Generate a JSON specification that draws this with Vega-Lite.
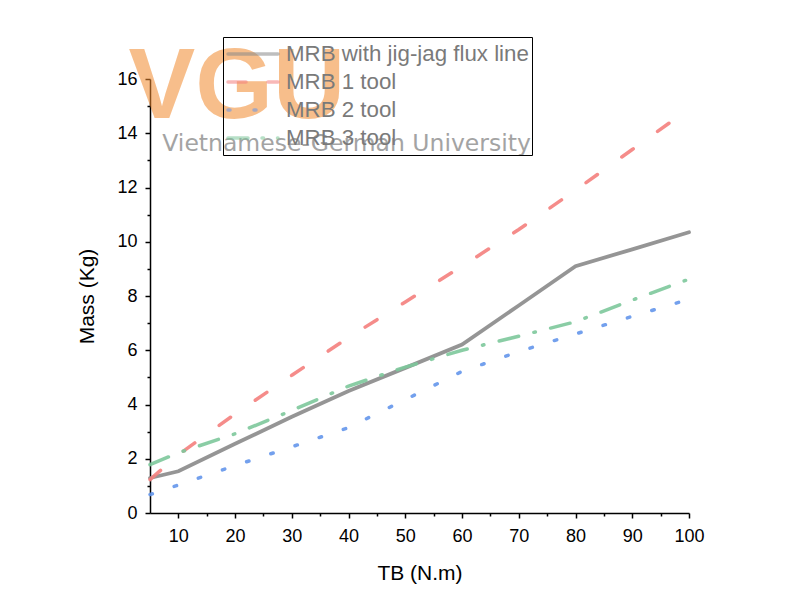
{
  "$schema": "https://vega.github.io/schema/vega-lite/v6.json",
  "width": 539,
  "height": 434,
  "autosize": {"type": "none"},
  "padding": {"left": 150, "top": 79, "right": 106, "bottom": 101},
  "background": "white",
  "config": {
    "view": {"stroke": null},
    "font": "Liberation Sans",
    "axis": {
      "domainColor": "#000000",
      "domainWidth": 1.5,
      "tickColor": "#000000",
      "tickWidth": 1.5,
      "labelColor": "#000000",
      "labelFont": "Liberation Sans",
      "labelFontSize": 18,
      "titleFont": "Liberation Sans",
      "titleFontSize": 21,
      "titleFontWeight": "normal",
      "titleColor": "#000000",
      "grid": false
    }
  },
  "datasets": {
    "lines": [
      {"TB": 5, "Mass": 1.29, "series": "MRB with jig-jag flux line"},
      {"TB": 10, "Mass": 1.54, "series": "MRB with jig-jag flux line"},
      {"TB": 20, "Mass": 2.55, "series": "MRB with jig-jag flux line"},
      {"TB": 30, "Mass": 3.55, "series": "MRB with jig-jag flux line"},
      {"TB": 40, "Mass": 4.5, "series": "MRB with jig-jag flux line"},
      {"TB": 50, "Mass": 5.35, "series": "MRB with jig-jag flux line"},
      {"TB": 60, "Mass": 6.21, "series": "MRB with jig-jag flux line"},
      {"TB": 70, "Mass": 7.65, "series": "MRB with jig-jag flux line"},
      {"TB": 80, "Mass": 9.1, "series": "MRB with jig-jag flux line"},
      {"TB": 90, "Mass": 9.72, "series": "MRB with jig-jag flux line"},
      {"TB": 100, "Mass": 10.35, "series": "MRB with jig-jag flux line"},
      {"TB": 5, "Mass": 1.23, "series": "MRB 1 tool"},
      {"TB": 10, "Mass": 2.15, "series": "MRB 1 tool"},
      {"TB": 20, "Mass": 3.65, "series": "MRB 1 tool"},
      {"TB": 30, "Mass": 5.08, "series": "MRB 1 tool"},
      {"TB": 40, "Mass": 6.47, "series": "MRB 1 tool"},
      {"TB": 50, "Mass": 7.78, "series": "MRB 1 tool"},
      {"TB": 60, "Mass": 9.1, "series": "MRB 1 tool"},
      {"TB": 70, "Mass": 10.45, "series": "MRB 1 tool"},
      {"TB": 80, "Mass": 11.9, "series": "MRB 1 tool"},
      {"TB": 90, "Mass": 13.4, "series": "MRB 1 tool"},
      {"TB": 100, "Mass": 14.9, "series": "MRB 1 tool"},
      {"TB": 5, "Mass": 0.68, "series": "MRB 2 tool"},
      {"TB": 10, "Mass": 1.03, "series": "MRB 2 tool"},
      {"TB": 20, "Mass": 1.75, "series": "MRB 2 tool"},
      {"TB": 30, "Mass": 2.44, "series": "MRB 2 tool"},
      {"TB": 40, "Mass": 3.15, "series": "MRB 2 tool"},
      {"TB": 50, "Mass": 4.18, "series": "MRB 2 tool"},
      {"TB": 60, "Mass": 5.22, "series": "MRB 2 tool"},
      {"TB": 70, "Mass": 5.95, "series": "MRB 2 tool"},
      {"TB": 80, "Mass": 6.6, "series": "MRB 2 tool"},
      {"TB": 90, "Mass": 7.25, "series": "MRB 2 tool"},
      {"TB": 100, "Mass": 7.88, "series": "MRB 2 tool"},
      {"TB": 5, "Mass": 1.78, "series": "MRB 3 tool"},
      {"TB": 10, "Mass": 2.22, "series": "MRB 3 tool"},
      {"TB": 20, "Mass": 2.92, "series": "MRB 3 tool"},
      {"TB": 30, "Mass": 3.78, "series": "MRB 3 tool"},
      {"TB": 40, "Mass": 4.68, "series": "MRB 3 tool"},
      {"TB": 50, "Mass": 5.38, "series": "MRB 3 tool"},
      {"TB": 60, "Mass": 6.0, "series": "MRB 3 tool"},
      {"TB": 70, "Mass": 6.52, "series": "MRB 3 tool"},
      {"TB": 80, "Mass": 7.05, "series": "MRB 3 tool"},
      {"TB": 90, "Mass": 7.85, "series": "MRB 3 tool"},
      {"TB": 100, "Mass": 8.62, "series": "MRB 3 tool"}
    ]
  },
  "layer": [
    {
      "data": {"name": "lines"},
      "mark": {"type": "line", "opacity": 0},
      "encoding": {
        "x": {
          "field": "TB", "type": "quantitative",
          "scale": {"domain": [5, 100], "nice": false, "zero": false},
          "axis": {
            "orient": "bottom",
            "title": null,
            "values": [15, 25, 35, 45, 55, 65, 75, 85, 95],
            "labels": false,
            "domain": false,
            "tickSize": 3
          }
        },
        "y": {
          "field": "Mass", "type": "quantitative",
          "scale": {"domain": [0, 16], "nice": false},
          "axis": {
            "orient": "left",
            "title": null,
            "values": [1, 3, 5, 7, 9, 11, 13, 15],
            "labels": false,
            "domain": false,
            "tickSize": 3
          }
        },
        "detail": {"field": "series"}
      }
    },
    {
      "data": {"name": "lines"},
      "transform": [{"filter": "datum.series === 'MRB with jig-jag flux line'"}],
      "mark": {"type": "line", "strokeWidth": 3.8, "strokeCap": "round", "opacity": 0.9},
      "encoding": {
        "x": {
          "field": "TB", "type": "quantitative",
          "axis": {
            "orient": "bottom",
            "title": "TB (N.m)",
            "values": [10, 20, 30, 40, 50, 60, 70, 80, 90, 100],
            "tickSize": 5,
            "labelPadding": 9,
            "titlePadding": 17,
            "labelFlush": false,
            "labelOverlap": false
          }
        },
        "y": {
          "field": "Mass", "type": "quantitative",
          "axis": {
            "orient": "left",
            "title": "Mass (Kg)",
            "values": [0, 2, 4, 6, 8, 10, 12, 14, 16],
            "tickSize": 5,
            "labelPadding": 8,
            "titlePadding": 19,
            "labelFlush": false,
            "labelOverlap": false
          }
        },
        "color": {
          "field": "series", "type": "nominal",
          "scale": {
            "domain": ["MRB with jig-jag flux line", "MRB 1 tool", "MRB 2 tool", "MRB 3 tool"],
            "range": ["#8a8a8a", "#f47f7d", "#6496eb", "#7dc89b"]
          },
          "legend": {
            "title": null,
            "orient": "none",
            "legendX": 73,
            "legendY": -42,
            "direction": "vertical",
            "strokeColor": "#000000",
            "padding": 3,
            "clipHeight": 28,
            "rowPadding": 0,
            "labelFont": "Liberation Sans",
            "labelFontSize": 22.3,
            "labelColor": "#7a7a7a",
            "labelOffset": 6,
            "symbolType": "stroke",
            "symbolSize": 2500,
            "symbolStrokeWidth": 3.5,
            "symbolOpacity": 0.55,
            "labelLimit": 400,
            "encode": {
              "symbols": {
                "update": {
                  "strokeCap": {"value": "round"},
                  "strokeDash": {"signal": "datum.value === 'MRB 1 tool' ? [18, 22] : datum.value === 'MRB 2 tool' ? [2, 24] : datum.value === 'MRB 3 tool' ? [20, 14, 1.5, 14] : [1, 0]"}
                }
              }
            }
          }
        }
      }
    },
    {
      "data": {"name": "lines"},
      "transform": [{"filter": "datum.series === 'MRB 1 tool'"}],
      "mark": {"type": "line", "strokeWidth": 3.5, "strokeCap": "round", "opacity": 0.9, "strokeDash": [14, 30]},
      "encoding": {
        "x": {"field": "TB", "type": "quantitative", "axis": null},
        "y": {"field": "Mass", "type": "quantitative", "axis": null},
        "color": {"field": "series", "type": "nominal"}
      }
    },
    {
      "data": {"name": "lines"},
      "transform": [{"filter": "datum.series === 'MRB 2 tool'"}],
      "mark": {"type": "line", "strokeWidth": 3.5, "strokeCap": "round", "opacity": 0.9, "strokeDash": [2.5, 23]},
      "encoding": {
        "x": {"field": "TB", "type": "quantitative", "axis": null},
        "y": {"field": "Mass", "type": "quantitative", "axis": null},
        "color": {"field": "series", "type": "nominal"}
      }
    },
    {
      "data": {"name": "lines"},
      "transform": [{"filter": "datum.series === 'MRB 3 tool'"}],
      "mark": {"type": "line", "strokeWidth": 3.5, "strokeCap": "round", "opacity": 0.9, "strokeDash": [20, 15.75, 1.5, 15.75]},
      "encoding": {
        "x": {"field": "TB", "type": "quantitative", "axis": null},
        "y": {"field": "Mass", "type": "quantitative", "axis": null},
        "color": {"field": "series", "type": "nominal"}
      }
    },
    {
      "data": {"values": [{"label": "VGU"}]},
      "mark": {"type": "text", "font": "Liberation Sans", "fontWeight": "bold", "fontSize": 100, "color": "#f28a2e", "opacity": 0.55, "align": "center", "baseline": "alphabetic"},
      "encoding": {
        "x": {"datum": 20.3, "type": "quantitative", "axis": null},
        "y": {"datum": 14.58, "type": "quantitative", "axis": null},
        "text": {"field": "label"}
      }
    },
    {
      "data": {"values": [{"label": "Vietnamese-German University"}]},
      "mark": {"type": "text", "font": "DejaVu Sans", "fontSize": 23.5, "color": "#9a9a9a", "opacity": 0.9, "align": "center", "baseline": "alphabetic"},
      "encoding": {
        "x": {"datum": 39.65, "type": "quantitative", "axis": null},
        "y": {"datum": 13.33, "type": "quantitative", "axis": null},
        "text": {"field": "label"}
      }
    }
  ],
  "resolve": {"axis": {"x": "independent", "y": "independent"}}
}
